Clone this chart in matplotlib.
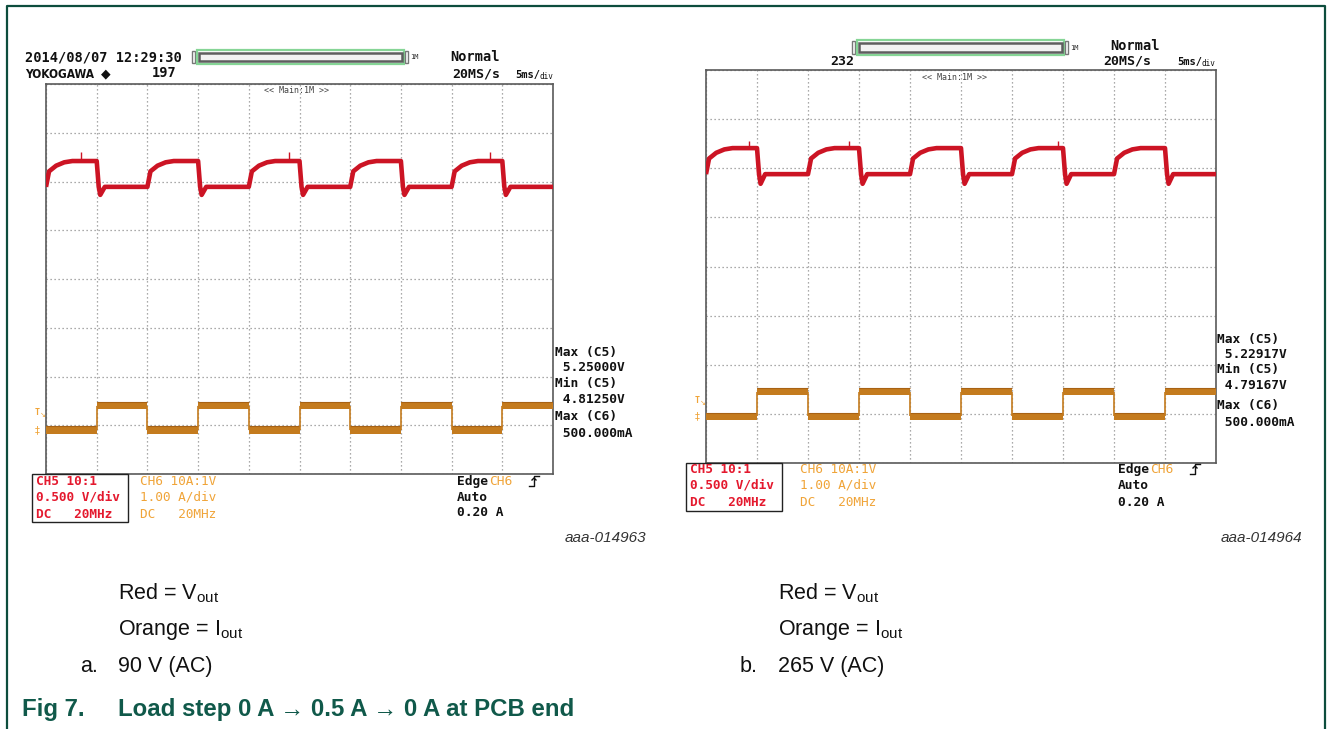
import matplotlib
matplotlib.use("Agg")
import matplotlib.pyplot as plt
from matplotlib.patches import Rectangle

# ---------------------------------------------------------------- data
ms_per_div = 5
n_xdiv, n_ydiv = 10, 8
load_on_ms = [5, 15, 25, 35, 45]       # load 0 A -> 0.5 A
load_off_ms = [0, 10, 20, 30, 40]      # load 0.5 A -> 0 A
iout_low, iout_high = 0.0, 0.5         # A

# recovery after load release (ms after edge, fraction of step recovered)
recovery_t = [0.0, 0.3, 1.0, 1.8, 2.6]
recovery_frac = [0.0, 0.6, 0.82, 0.95, 1.0]
# drop after load application (ms after edge, level reached)
drop_t = [0.0, 0.2, 0.35, 0.8]
drop_level = ["high", "low", "min", "low"]

# a. 90 V (AC)
vout_a_high, vout_a_low = 5.16, 4.895
vout_a_max, vout_a_min = 5.25000, 4.81250
iout_a_max = 0.500
noise_a_t = [3.5, 24.0, 43.8]
# b. 265 V (AC)
vout_b_high, vout_b_low = 5.155, 4.89
vout_b_max, vout_b_min = 5.22917, 4.79167
iout_b_max = 0.500
noise_b_t = [4.2, 14.0, 34.5]

# channel settings
ch5_v_per_div, ch5_ref_v, ch5_ref_div = 0.5, 5.0, 2.1
ch6_a_per_div = 1.0
ch6_zero_div_a, ch6_zero_div_b = -3.1, -3.05

# ---------------------------------------------------------------- style
W, H = 1328, 729
RED = "#cc1424"
ORANGE = "#c47b1e"
LBL_RED = "#e4192e"
LBL_ORANGE = "#f0a438"
GREEN = "#10594a"
MONO = "DejaVu Sans Mono"
SANS = ["Liberation Sans", "DejaVu Sans"]

plt.rcParams["mathtext.fontset"] = "custom"
plt.rcParams["mathtext.rm"] = "Liberation Sans"
plt.rcParams["mathtext.it"] = "Liberation Sans:italic"

fig = plt.figure(figsize=(W / 100, H / 100), dpi=100)


def px_axes(x0, y0, x1, y1):
    return fig.add_axes([x0 / W, 1 - y1 / H, (x1 - x0) / W, (y1 - y0) / H])


def vout_trace(hi, lo, vmin, t_end):
    events = sorted([(t, "off") for t in load_off_ms] + [(t, "on") for t in load_on_ms])
    levels = {"high": hi, "low": lo, "min": vmin}
    tt, vv = [], []
    for k, (t0, kind) in enumerate(events):
        t_next = events[k + 1][0] if k + 1 < len(events) else t_end
        if kind == "off":
            for dt, f in zip(recovery_t, recovery_frac):
                if t0 + dt <= t_next:
                    tt.append(t0 + dt)
                    vv.append(lo + f * (hi - lo))
            tt.append(t_next)
            vv.append(hi)
        else:
            for dt, name in zip(drop_t, drop_level):
                tt.append(t0 + dt)
                vv.append(levels[name])
            tt.append(t_next)
            vv.append(lo)
    return tt, vv


def iout_segments(t_end):
    events = sorted([(t, iout_low) for t in load_off_ms] + [(t, iout_high) for t in load_on_ms])
    segs = []
    for k, (t0, lvl) in enumerate(events):
        t1 = events[k + 1][0] if k + 1 < len(events) else t_end
        segs.append((t0, t1, lvl))
    return segs


def scope(box, hi, lo, vmax, vmin, zero_div, noise_t):
    ax = px_axes(*box)
    t_end = ms_per_div * n_xdiv
    ax.set_xlim(0, t_end)
    ax.set_ylim(-n_ydiv / 2, n_ydiv / 2)
    ax.set_xticks(range(0, t_end + 1, ms_per_div))
    ax.set_yticks(range(-n_ydiv // 2, n_ydiv // 2 + 1))
    ax.tick_params(length=0, labelbottom=False, labelleft=False)
    ax.grid(True, color="#8f8f8f", linestyle=(0, (1, 2.2)), linewidth=0.9)
    for s in ax.spines.values():
        s.set_color("#5a5a5a")
        s.set_linewidth(1.2)

    # voltage channel axis
    axv = ax.twinx()
    axv.set_ylim(ch5_ref_v - (n_ydiv / 2 + ch5_ref_div) * ch5_v_per_div,
                 ch5_ref_v + (n_ydiv / 2 - ch5_ref_div) * ch5_v_per_div)
    axv.axis("off")
    # current channel axis
    axi = ax.twinx()
    axi.set_ylim(-(n_ydiv / 2 + zero_div) * ch6_a_per_div,
                 (n_ydiv / 2 - zero_div) * ch6_a_per_div)
    axi.axis("off")

    tt, vv = vout_trace(hi, lo, vmin, t_end)
    axv.plot(tt, vv, color=RED, lw=3.3, solid_joinstyle="round", solid_capstyle="butt")
    axv.vlines(noise_t, hi, vmax, color=RED, lw=1.0)

    band = 0.075
    segs = iout_segments(t_end)
    for t0, t1, lvl in segs:
        axi.fill_between([t0, t1], lvl - band, lvl + band, color=ORANGE, lw=0)
        axi.hlines(lvl + band, t0, t1, color="#a86214", lw=0.8)
    for t0, t1, lvl in segs[1:]:
        axi.vlines(t0, iout_low, iout_high, color=ORANGE, lw=1.2)
    return ax


scope((46, 84, 553, 474), vout_a_high, vout_a_low, vout_a_max, vout_a_min,
      ch6_zero_div_a, noise_a_t)
scope((706, 70, 1216, 463), vout_b_high, vout_b_low, vout_b_max, vout_b_min,
      ch6_zero_div_b, noise_b_t)

# ---------------------------------------------------------------- annotations layer
ov = fig.add_axes([0, 0, 1, 1])
ov.set_xlim(0, W)
ov.set_ylim(H, 0)
ov.axis("off")
ov.set_zorder(10)

# outer frame
ov.plot([7, 7, 1325, 1325], [H, 6, 6, H], color="#0d4d3d", lw=1.6)


def mono(x, y, s, size=9.5, color="#111111", weight="bold", ha="left"):
    ov.text(x, y, s, fontsize=size, family=MONO, color=color, weight=weight,
            ha=ha, va="center")


def record_bar(x0, x1, y0, y1):
    ov.add_patch(Rectangle((x0 - 5, y0 + 1), 3, y1 - y0 - 2, fc="none", ec="#777777", lw=1))
    ov.add_patch(Rectangle((x0, y0), x1 - x0, y1 - y0, fc="none", ec="#86d596", lw=1.6))
    ov.add_patch(Rectangle((x0 + 2, y0 + 3), x1 - x0 - 4, y1 - y0 - 6,
                           fc="#f2f2f2", ec="#5e5e5e", lw=1.8))
    ov.add_patch(Rectangle((x1 + 1, y0 + 1), 3, y1 - y0 - 2, fc="none", ec="#777777", lw=1))
    ov.text(x1 + 6, (y0 + y1) / 2, "1M", fontsize=5, family=MONO, color="#333333", va="center")


def edge_symbol(x, y):
    ov.plot([x, x + 5, x + 5, x + 10], [y + 5, y + 5, y - 5, y - 5], color="#111111", lw=1)
    ov.plot([x + 3, x + 5, x + 7], [y - 1, y - 3, y - 1], color="#111111", lw=1)


def trig_marks(x, y_t, y_g):
    ov.text(x, y_t, "T", fontsize=6, family=MONO, color=LBL_ORANGE, weight="bold",
            ha="center", va="center")
    ov.text(x + 3, y_t + 3, "\u2198", fontsize=5, color=LBL_ORANGE, ha="left", va="center")
    ov.text(x, y_g, "\u2021", fontsize=7, color=LBL_ORANGE, ha="center", va="center")


def channel_box(x0, y0, x_or, y_rows):
    ov.add_patch(Rectangle((x0, y0), 96, 48, fc="none", ec="#222222", lw=1))
    for s, y in zip(["CH5 10:1", "0.500 V/div", "DC   20MHz"], y_rows):
        mono(x0 + 4, y, s, size=9.2, color=LBL_RED)
    for s, y in zip(["CH6 10A:1V", "1.00 A/div", "DC   20MHz"], y_rows):
        mono(x_or, y, s, size=9.2, color=LBL_ORANGE, weight="normal")


def readouts(x, ys, vmax, vmin, imax):
    rows = ["Max (C5)", f" {vmax:.5f}V", "Min (C5)", f" {vmin:.5f}V",
            "Max (C6)", f" {imax * 1000:.3f}mA"]
    for s, y in zip(rows, ys):
        mono(x, y, s, size=9.3)


def trigger_info(x, ys):
    mono(x, ys[0], "Edge", size=9.3)
    mono(x + 32, ys[0], "CH6", size=9.3, color=LBL_ORANGE, weight="normal")
    edge_symbol(x + 72, ys[0])
    mono(x, ys[1], "Auto", size=9.3)
    mono(x, ys[2], "0.20 A", size=9.3)


# scope a header
mono(25, 57, "2014/08/07 12:29:30", size=9.8)
ov.text(25, 74, "YOKOGAWA", fontsize=8.6, family="DejaVu Sans", weight="bold",
        color="#111111", va="center", stretch="condensed")
ov.text(101, 74, "\u25c6", fontsize=9, family="DejaVu Sans", color="#111111", va="center")
mono(152, 73, "197", size=9.8)
record_bar(197, 404, 50, 64)
mono(450, 57, "Normal", size=9.8)
mono(452, 74, "20MS/s", size=9.5)
mono(515, 75, "5ms/", size=7.5)
mono(540, 76, "div", size=5.5, weight="normal")
mono(296, 90, "<< Main:1M >>", size=6, color="#444444", weight="normal", ha="center")
trig_marks(37, 412, 430)
readouts(555, [352, 367, 383, 399, 416, 433], vout_a_max, vout_a_min, iout_a_max)
channel_box(32, 474, 140, [481, 497, 514])
trigger_info(457, [481, 497, 513])
ov.text(646, 538, "aaa-014963", fontsize=11, family=SANS, style="italic",
        color="#333333", ha="right", va="center")

# scope b header
record_bar(857, 1064, 40, 55)
mono(1110, 46, "Normal", size=9.8)
mono(830, 61, "232", size=9.5)
mono(1103, 61, "20MS/s", size=9.5)
mono(1177, 62, "5ms/", size=7.5)
mono(1202, 63, "div", size=5.5, weight="normal")
mono(955, 77, "<< Main:1M >>", size=6, color="#444444", weight="normal", ha="center")
trig_marks(697, 400, 416)
readouts(1217, [339, 354, 369, 385, 405, 422], vout_b_max, vout_b_min, iout_b_max)
channel_box(686, 463, 800, [469, 485, 502])
trigger_info(1118, [469, 485, 502])
ov.text(1302, 538, "aaa-014964", fontsize=11, family=SANS, style="italic",
        color="#333333", ha="right", va="center")

# captions
for x0, tag, vin in [(80, "a.", "90 V (AC)"), (740, "b.", "265 V (AC)")]:
    ov.text(x0 + 38, 599, r"Red = V$_{\mathrm{out}}$", fontsize=15.5, family=SANS,
            color="#111111", va="baseline")
    ov.text(x0 + 38, 635, r"Orange = I$_{\mathrm{out}}$", fontsize=15.5, family=SANS,
            color="#111111", va="baseline")
    ov.text(x0, 672, tag, fontsize=15.5, family=SANS, color="#111111", va="baseline")
    ov.text(x0 + 38, 672, vin, fontsize=15.5, family=SANS, color="#111111", va="baseline")

ov.text(22, 716, "Fig 7.", fontsize=17.3, family=SANS, weight="bold", color=GREEN, va="baseline")
ov.text(118, 716, "Load step 0 A \u2192 0.5 A \u2192 0 A at PCB end", fontsize=17.3,
        family=SANS, weight="bold", color=GREEN, va="baseline")

fig.savefig("out.png", dpi=100, facecolor="white")
